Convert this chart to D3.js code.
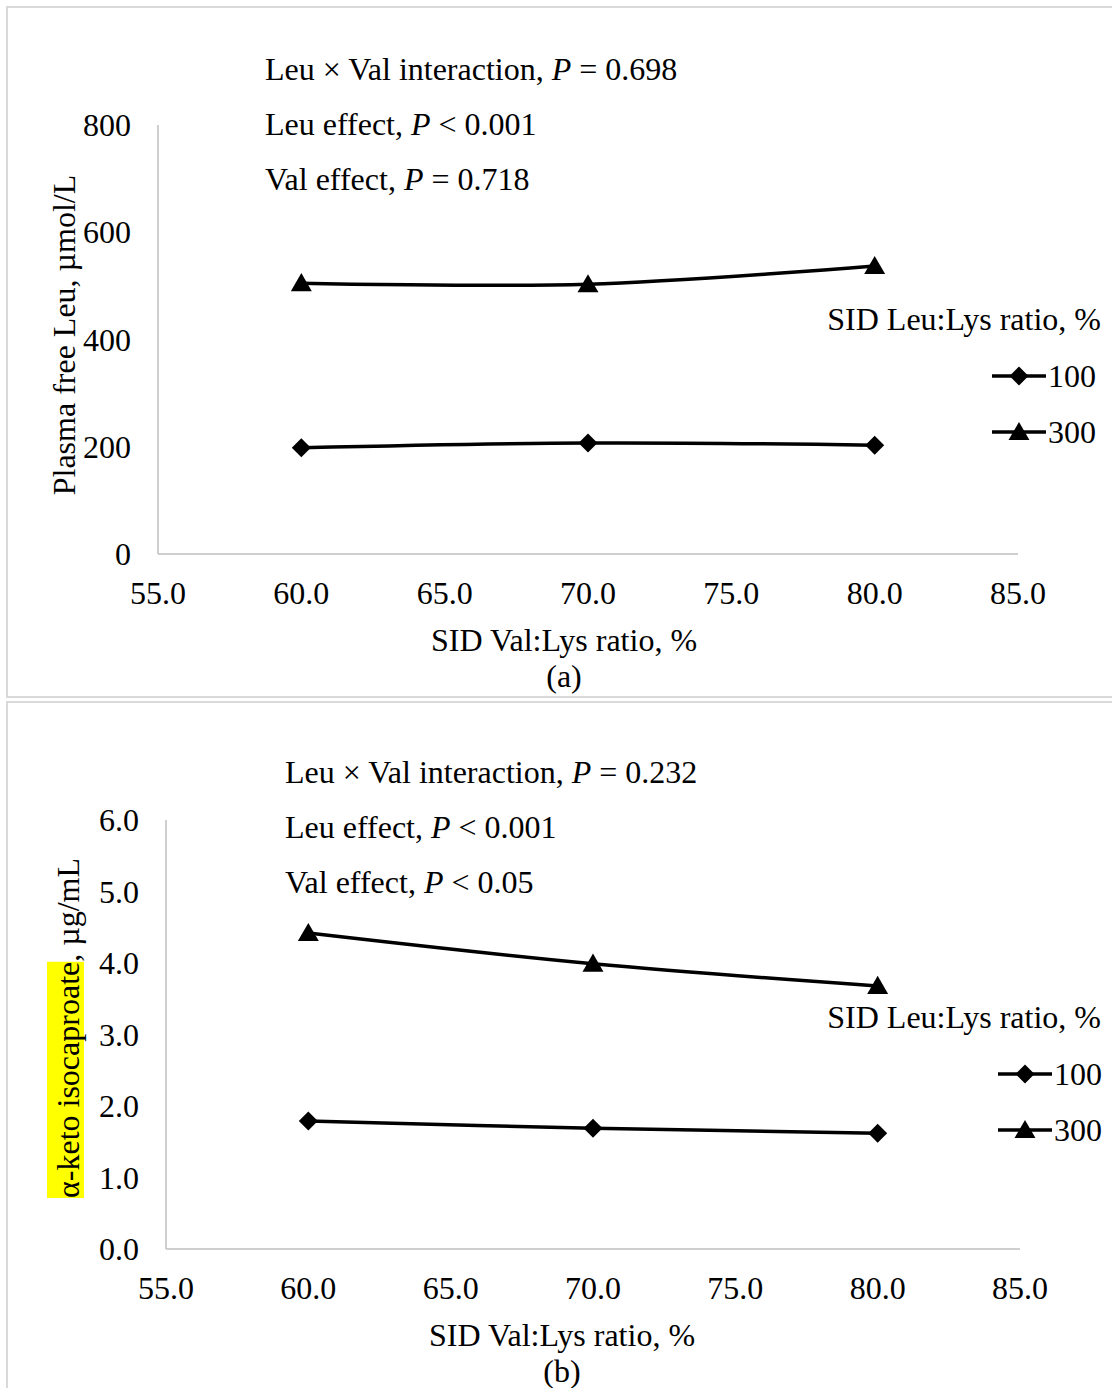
<!DOCTYPE html>
<html>
<head>
<meta charset="utf-8">
<script src="https://cdn.jsdelivr.net/npm/d3@7"></script>
<style>
  body { margin: 0; background: #fff; }
  svg text { font-family: "Liberation Serif", "Times New Roman", serif; fill: #000; }
</style>
</head>
<body>
<svg id="chart" width="1112" height="1388"></svg>
<script>
// dane wykresów
const valLys = [60, 70, 80];
const xTicks = [55, 60, 65, 70, 75, 80, 85];
const leuSeries = ["100", "300"];

const leuA_100 = [198, 207, 203];
const leuA_300 = [505, 503, 537];
const yTicksA = [0, 200, 400, 600, 800];

const kicB_100 = [1.79, 1.69, 1.62];
const kicB_300 = [4.42, 3.99, 3.68];
const yTicksB = [0, 1, 2, 3, 4, 5, 6];

const statsA = [["Leu × Val interaction, ", "P", " = 0.698"], ["Leu effect, ", "P", " < 0.001"], ["Val effect, ", "P", " = 0.718"]];
const statsB = [["Leu × Val interaction, ", "P", " = 0.232"], ["Leu effect, ", "P", " < 0.001"], ["Val effect, ", "P", " < 0.05"]];

const svg = d3.select("#chart");
const FS = 32;

// ramki paneli
svg.append("rect").attr("x", 7).attr("y", 7).attr("width", 1120).attr("height", 690)
  .attr("fill", "none").attr("stroke", "#d9d9d9").attr("stroke-width", 2);
svg.append("rect").attr("x", 7).attr("y", 702).attr("width", 1120).attr("height", 700)
  .attr("fill", "none").attr("stroke", "#d9d9d9").attr("stroke-width", 2);

const diamond = d3.symbol().type(d3.symbolDiamond2).size(230);
const triangle = d3.symbol().type(d3.symbolTriangle).size(190);

function drawPanel(cfg) {
  const g = svg.append("g");
  const x = d3.scaleLinear().domain([55, 85]).range([cfg.left, cfg.right]);
  const y = d3.scaleLinear().domain(cfg.yDomain).range([cfg.bottom, cfg.top]);

  // osie
  g.append("line").attr("x1", cfg.left).attr("x2", cfg.left).attr("y1", cfg.top).attr("y2", cfg.bottom)
    .attr("stroke", "#bfbfbf").attr("stroke-width", 1.5);
  g.append("line").attr("x1", cfg.left).attr("x2", cfg.right).attr("y1", cfg.bottom).attr("y2", cfg.bottom)
    .attr("stroke", "#bfbfbf").attr("stroke-width", 1.5);

  g.selectAll("text.ytick").data(cfg.yTicks).enter().append("text")
    .attr("class", "ytick")
    .attr("x", cfg.left - 27).attr("y", d => y(d) + 11)
    .attr("text-anchor", "end").attr("font-size", FS)
    .text(d => cfg.yFormat(d));

  g.selectAll("text.xtick").data(xTicks).enter().append("text")
    .attr("class", "xtick")
    .attr("x", d => x(d)).attr("y", cfg.bottom + 50)
    .attr("text-anchor", "middle").attr("font-size", FS)
    .text(d => d3.format(".1f")(d));

  // tytuły osi
  g.append("text").attr("x", cfg.xTitleX).attr("y", cfg.bottom + 97)
    .attr("text-anchor", "middle").attr("font-size", FS).text("SID Val:Lys ratio, %");
  g.append("text").attr("x", cfg.xTitleX).attr("y", cfg.bottom + 133)
    .attr("text-anchor", "middle").attr("font-size", FS).text(cfg.panelLabel);

  const yt = g.append("text")
    .attr("transform", `translate(${cfg.yTitleX},${cfg.yTitleY}) rotate(-90)`)
    .attr("text-anchor", "middle").attr("font-size", FS);
  if (cfg.highlight) {
    const hl = g.insert("rect", "text");
    yt.append("tspan").text(cfg.highlight);
    yt.append("tspan").text(cfg.yTitle);
    const full = yt.node().getComputedTextLength();
    const hw = yt.node().getSubStringLength(0, cfg.highlight.length);
    // podświetlenie w układzie obróconym
    hl.attr("transform", `translate(${cfg.yTitleX},${cfg.yTitleY}) rotate(-90)`)
      .attr("x", -full / 2).attr("y", -32).attr("width", hw).attr("height", 37)
      .attr("fill", "#ffff00");
  } else {
    yt.text(cfg.yTitle);
  }

  // statystyki
  cfg.stats.forEach((s, i) => {
    const t = g.append("text").attr("x", cfg.statsX).attr("y", cfg.statsY + i * 55).attr("font-size", FS);
    t.append("tspan").text(s[0]);
    t.append("tspan").attr("font-style", "italic").text(s[1]);
    t.append("tspan").text(s[2]);
  });

  // linie
  const line = d3.line().x((d, i) => x(valLys[i])).y(d => y(d)).curve(d3.curveCatmullRom.alpha(0.5));
  cfg.series.forEach((vals, si) => {
    g.append("path").datum(vals).attr("d", line)
      .attr("fill", "none").attr("stroke", "#000").attr("stroke-width", 3.5);
    g.selectAll(null).data(vals).enter().append("path")
      .attr("d", si === 0 ? diamond : triangle)
      .attr("transform", (d, i) => `translate(${x(valLys[i])},${y(d) + (si === 1 ? 2 : 0)})`)
      .attr("fill", "#000");
  });

  // legenda
  g.append("text").attr("x", 1101).attr("y", cfg.legendY).attr("text-anchor", "end")
    .attr("font-size", FS).text("SID Leu:Lys ratio, %");
  leuSeries.forEach((name, i) => {
    const ly = cfg.legendY + 46 + i * 56;
    g.append("line").attr("x1", cfg.legendX).attr("x2", cfg.legendX + 54).attr("y1", ly).attr("y2", ly)
      .attr("stroke", "#000").attr("stroke-width", 3.5);
    g.append("path").attr("d", i === 0 ? diamond : triangle)
      .attr("transform", `translate(${cfg.legendX + 27},${ly + (i === 1 ? 2 : 0)})`).attr("fill", "#000");
    g.append("text").attr("x", cfg.legendX + 56).attr("y", ly + 11).attr("font-size", FS).text(name);
  });
}

drawPanel({
  left: 158, right: 1018, top: 125, bottom: 554,
  yDomain: [0, 800], yTicks: yTicksA, yFormat: d3.format("d"),
  xTitleX: 564, panelLabel: "(a)",
  yTitle: "Plasma free Leu, µmol/L", yTitleX: 75, yTitleY: 335,
  stats: statsA, statsX: 265, statsY: 80,
  series: [leuA_100, leuA_300],
  legendY: 330, legendX: 992
});

drawPanel({
  left: 166, right: 1020, top: 820, bottom: 1249,
  yDomain: [0, 6], yTicks: yTicksB, yFormat: d3.format(".1f"),
  xTitleX: 562, panelLabel: "(b)",
  highlight: "α-keto isocaproate", yTitle: ", µg/mL", yTitleX: 79, yTitleY: 1028,
  stats: statsB, statsX: 285, statsY: 783,
  series: [kicB_100, kicB_300],
  legendY: 1028, legendX: 998
});
</script>
</body>
</html>
